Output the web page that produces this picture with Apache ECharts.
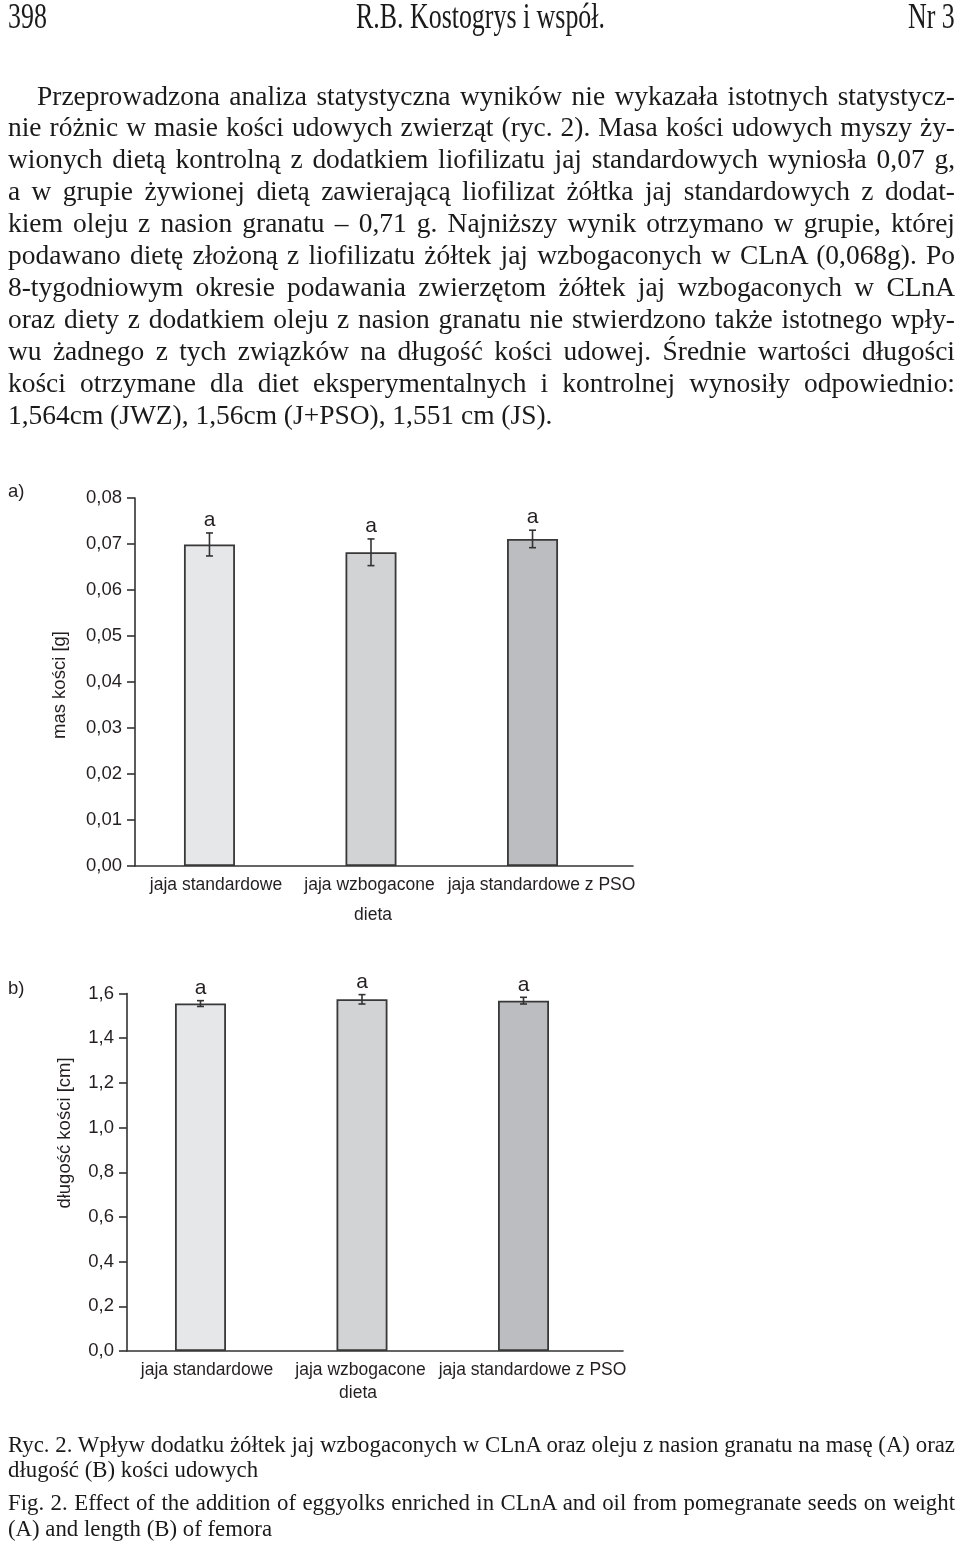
<!DOCTYPE html>
<html><head><meta charset="utf-8">
<script src="https://cdn.jsdelivr.net/npm/echarts@6/dist/echarts.min.js"></script>
<style>
html,body{margin:0;padding:0;background:#fff;}
#page{position:relative;width:960px;height:1542px;overflow:hidden;background:#fff;}
#chart{position:absolute;left:0;top:0;width:960px;height:1542px;}
#text{position:absolute;left:0;top:0;width:960px;height:1542px;pointer-events:none;}
.ln{position:absolute;white-space:nowrap;font-family:'Liberation Serif','Times New Roman',serif;color:#1a1a1a;transform-origin:0 50%;}
</style></head><body>
<div id="page"><div id="chart"></div><div id="text"></div></div>
<script>
// ---------- data ----------
const categories = ['jaja standardowe', 'jaja wzbogacone', 'jaja standardowe z PSO'];
const massValues = [0.0699, 0.0682, 0.0711];
const massErrors = [0.0025, 0.0029, 0.0019];
const lengthValues = [1.555, 1.574, 1.568];
const lengthErrors = [0.013, 0.021, 0.015];
const sigLetters = ['a', 'a', 'a'];
const barColors = ['#e6e7e8', '#d2d3d5', '#bcbdc0'];

// ---------- page text ----------
const header = ['398', 'R.B. Kostogrys i współ.', 'Nr 3'];
const paragraph = [
 'Przeprowadzona analiza statystyczna wyników nie wykazała istotnych statystycz-',
 'nie różnic w masie kości udowych zwierząt (ryc. 2). Masa kości udowych myszy ży-',
 'wionych dietą kontrolną z dodatkiem liofilizatu jaj standardowych wyniosła 0,07 g,',
 'a w grupie żywionej dietą zawierającą liofilizat żółtka jaj standardowych z dodat-',
 'kiem oleju z nasion granatu – 0,71 g. Najniższy wynik otrzymano w grupie, której',
 'podawano dietę złożoną z liofilizatu żółtek jaj wzbogaconych w CLnA (0,068g). Po',
 '8-tygodniowym okresie podawania zwierzętom żółtek jaj wzbogaconych w CLnA',
 'oraz diety z dodatkiem oleju z nasion granatu nie stwierdzono także istotnego wpły-',
 'wu żadnego z tych związków na długość kości udowej. Średnie wartości długości',
 'kości otrzymane dla diet eksperymentalnych i kontrolnej wynosiły odpowiednio:',
 '1,564cm (JWZ), 1,56cm (J+PSO), 1,551 cm (JS).'
];
const caption = [
 'Ryc. 2. Wpływ dodatku żółtek jaj wzbogaconych w CLnA oraz oleju z nasion granatu na masę (A) oraz',
 'długość (B) kości udowych',
 'Fig. 2. Effect of the addition of eggyolks enriched in CLnA and oil from pomegranate seeds on weight',
 '(A) and length (B) of femora'
];

const textBox = document.getElementById('text');
function addLine(txt, o) {
  const d = document.createElement('div');
  d.className = 'ln';
  d.textContent = txt;
  const lh = Math.round(o.size * 1.25);
  d.style.fontSize = o.size + 'px';
  d.style.lineHeight = lh + 'px';
  textBox.appendChild(d);
  const w = d.getBoundingClientRect().width;
  const sx = o.sx || 1;
  let left = o.x;
  if (o.align === 'justify') {
    const n = (txt.match(/ /g) || []).length;
    if (n > 0) d.style.wordSpacing = ((o.right - o.x) / sx - w) / n + 'px';
  } else if (o.align === 'center') {
    left = o.x - w * sx / 2;
  } else if (o.align === 'right') {
    left = o.x - w * sx;
  }
  d.style.left = left + 'px';
  d.style.top = (o.y - lh / 2) + 'px';
  d.style.transform = 'scaleX(' + sx + ')';
}
addLine(header[0], {x: 8, y: 17, size: 35, sx: 0.74, align: 'left'});
addLine(header[1], {x: 480, y: 17, size: 35, sx: 0.74, align: 'center'});
addLine(header[2], {x: 955, y: 17, size: 35, sx: 0.74, align: 'right'});
paragraph.forEach((t, i) => {
  const last = i === paragraph.length - 1;
  addLine(t, {x: i === 0 ? 37 : 8, right: 955, y: 95 + i * 31.9, size: 28, sx: 0.98, align: last ? 'left' : 'justify'});
});
const capY = [1444, 1469, 1502, 1528];
caption.forEach((t, i) => {
  addLine(t, {x: 8, right: 955, y: capY[i], size: 24, sx: 0.95, align: (i === 0 || i === 2) ? 'justify' : 'left'});
});

// ---------- chart ----------
const FONT = '"Liberation Sans", Arial, Helvetica, sans-serif';
const TXT = '#231f20';
const AX = '#333333';

function errRender(errLetters) {
  return function (params, api) {
    const x = api.value(0), v = api.value(1), e = api.value(2);
    const pT = api.coord([x, v + e]);
    const pB = api.coord([x, v - e]);
    const cap = 3.5;
    const st = {stroke: AX, lineWidth: 1.6};
    return {
      type: 'group',
      children: [
        {type: 'line', shape: {x1: pT[0], y1: pT[1], x2: pB[0], y2: pB[1]}, style: st},
        {type: 'line', shape: {x1: pT[0] - cap, y1: pT[1], x2: pT[0] + cap, y2: pT[1]}, style: st},
        {type: 'line', shape: {x1: pB[0] - cap, y1: pB[1], x2: pB[0] + cap, y2: pB[1]}, style: st},
        {type: 'text', x: pT[0], y: pT[1] - 2,
         style: {text: errLetters[params.dataIndex], fill: TXT, font: '21px ' + FONT, align: 'center', verticalAlign: 'bottom'}}
      ]
    };
  };
}

function yAxisCfg(grid, max, interval, digits) {
  return {
    type: 'value', gridIndex: grid, min: 0, max: max, interval: interval,
    axisLine: {show: true, onZero: false, lineStyle: {color: AX, width: 1.6}},
    axisTick: {show: true, inside: false, length: 8, lineStyle: {color: AX, width: 1.6}},
    splitLine: {show: false},
    axisLabel: {margin: 13, fontSize: 18.5, fontFamily: FONT, color: TXT,
      formatter: v => v.toFixed(digits).replace('.', ',')}
  };
}
function xAxisCfg(grid, min, max) {
  return {
    type: 'value', gridIndex: grid, min: min, max: max,
    axisLine: {show: true, onZero: false, lineStyle: {color: AX, width: 1.6}},
    axisTick: {show: false},
    splitLine: {show: false},
    axisLabel: {margin: 10, fontSize: 17.5, fontFamily: FONT, color: TXT,
      customValues: [0, 1, 2],
      formatter: v => { const i = Math.round(v); return '{c' + i + '|' + (categories[i] || '') + '}'; },
      rich: {
        c0: {fontSize: 17.5, fontFamily: FONT, color: TXT, padding: [0, 0, 0, 13]},
        c1: {fontSize: 17.5, fontFamily: FONT, color: TXT, padding: [0, 3, 0, 0]},
        c2: {fontSize: 17.5, fontFamily: FONT, color: TXT, padding: [0, 0, 0, 18]}
      }}
  };
}

const barData = vals => vals.map((v, i) => ({value: [i, v], itemStyle: {color: barColors[i]}}));
const errData = (vals, errs) => vals.map((v, i) => [i, v, errs[i]]);

const chart = echarts.init(document.getElementById('chart'), null, {renderer: 'canvas'});
chart.setOption({
  animation: false,
  backgroundColor: '#fff',
  grid: [
    {left: 135, top: 498, width: 498, height: 368},
    {left: 127, top: 993.5, width: 496, height: 357.5}
  ],
  xAxis: [xAxisCfg(0, -0.461, 2.622), xAxisCfg(1, -0.455, 2.616)],
  yAxis: [yAxisCfg(0, 0.08, 0.01, 2), yAxisCfg(1, 1.6, 0.2, 1)],
  series: [
    {type: 'bar', xAxisIndex: 0, yAxisIndex: 0, barWidth: 51, data: barData(massValues),
     itemStyle: {borderColor: '#383838', borderWidth: 1.8}},
    {type: 'custom', xAxisIndex: 0, yAxisIndex: 0, z: 5, data: errData(massValues, massErrors),
     renderItem: errRender(sigLetters), encode: {x: 0, y: 1}},
    {type: 'bar', xAxisIndex: 1, yAxisIndex: 1, barWidth: 51, data: barData(lengthValues),
     itemStyle: {borderColor: '#383838', borderWidth: 1.8}},
    {type: 'custom', xAxisIndex: 1, yAxisIndex: 1, z: 5, data: errData(lengthValues, lengthErrors),
     renderItem: errRender(sigLetters), encode: {x: 0, y: 1}}
  ],
  graphic: [
    {type: 'text', x: 8, y: 492, style: {text: 'a)', font: '18.5px ' + FONT, fill: TXT, verticalAlign: 'middle'}},
    {type: 'text', x: 8, y: 989, style: {text: 'b)', font: '18.5px ' + FONT, fill: TXT, verticalAlign: 'middle'}},
    {type: 'text', x: 60, y: 685, rotation: Math.PI / 2,
     style: {text: 'mas kości [g]', font: '18.5px ' + FONT, fill: TXT, align: 'center', verticalAlign: 'middle'}},
    {type: 'text', x: 64.5, y: 1133, rotation: Math.PI / 2,
     style: {text: 'długość kości [cm]', font: '18.5px ' + FONT, fill: TXT, align: 'center', verticalAlign: 'middle'}},
    {type: 'text', x: 373, y: 915, style: {text: 'dieta', font: '17.5px ' + FONT, fill: TXT, align: 'center', verticalAlign: 'middle'}},
    {type: 'text', x: 358, y: 1393, style: {text: 'dieta', font: '17.5px ' + FONT, fill: TXT, align: 'center', verticalAlign: 'middle'}}
  ]
});
</script>
</body></html>
